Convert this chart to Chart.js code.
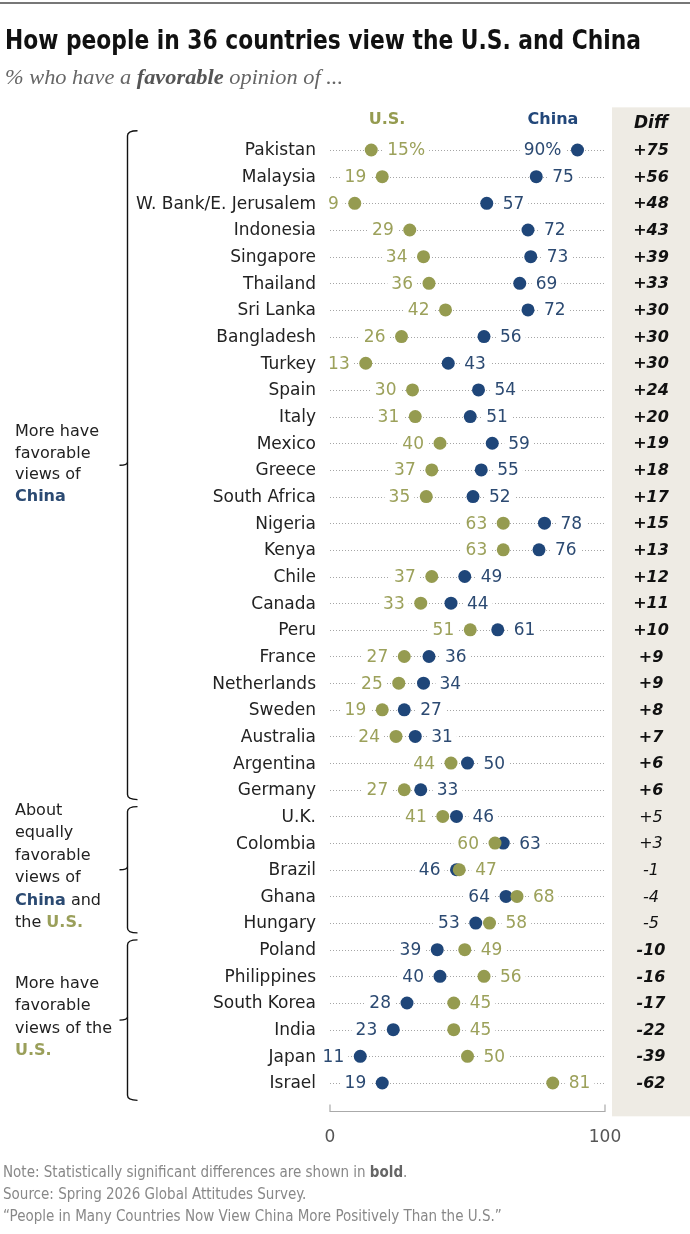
<!DOCTYPE html>
<html>
<head>
<meta charset="utf-8">
<script src="https://cdn.jsdelivr.net/npm/chart.js@4.4.1/dist/chart.umd.min.js"></script>
<style>
  html,body{margin:0;padding:0;background:#fff;}
  #wrap{position:relative;width:690px;height:1234px;overflow:hidden;}
  canvas{position:absolute;left:0;top:0;}
  .abs{position:absolute;white-space:nowrap;}
  #topline{left:0;top:2px;width:690px;height:2px;background:#777;}
  #title{left:5px;top:24px;font-family:"Liberation Sans Narrow","DejaVu Sans Condensed",sans-serif;font-weight:bold;font-size:27px;line-height:32px;color:#111;transform-origin:left top;}
  #sub{left:5px;top:65px;font-family:"Liberation Serif","DejaVu Serif",serif;font-style:italic;font-size:20px;line-height:24px;color:#666;transform-origin:left top;}
  #sub b{color:#555;}
  .hdr{font-family:"DejaVu Sans",sans-serif;font-weight:bold;font-size:16px;line-height:20px;transform:translate(-50%,-50%);}
  .grp{left:15px;font-family:"DejaVu Sans",sans-serif;font-size:16px;line-height:22.4px;color:#222;transform:translateY(-50%);}
  .grp .c{color:#2b4a72;font-weight:bold;}
  .grp .u{color:#9a9f5a;font-weight:bold;}
  #notes{left:3px;top:1161px;font-family:"Liberation Sans Narrow","DejaVu Sans Condensed",sans-serif;font-size:15px;line-height:22px;color:#888;}
  #notes b{color:#666;}
</style>
</head>
<body>
<div id="wrap">
  <canvas id="c" width="690" height="1234"></canvas>
  <div class="abs" id="topline"></div>
  <div class="abs" id="title">How people in 36 countries view the U.S. and China</div>
  <div class="abs" id="sub">% who have a <b>favorable</b> opinion of ...</div>
  <div class="abs hdr" style="left:387px;top:119px;color:#959b50;">U.S.</div>
  <div class="abs hdr" style="left:553px;top:119px;color:#22477a;">China</div>
  <div class="abs hdr" style="left:651px;top:122px;color:#111;font-style:italic;font-size:17px;">Diff</div>
  <div class="abs grp" style="top:463px;line-height:21.5px;">More have<br>favorable<br>views of<br><span class="c">China</span></div>
  <div class="abs grp" style="top:866px;">About<br>equally<br>favorable<br>views of<br><span class="c">China</span> and<br>the <span class="u">U.S.</span></div>
  <div class="abs grp" style="top:1017px;">More have<br>favorable<br>views of the<br><span class="u">U.S.</span></div>
  <div class="abs" id="notes">Note: Statistically significant differences are shown in <b>bold</b>.<br>Source: Spring 2026 Global Attitudes Survey.<br>“People in Many Countries Now View China More Positively Than the U.S.”</div>
</div>
<script>
const countries = ["Pakistan","Malaysia","W. Bank/E. Jerusalem","Indonesia","Singapore","Thailand","Sri Lanka","Bangladesh","Turkey","Spain","Italy","Mexico","Greece","South Africa","Nigeria","Kenya","Chile","Canada","Peru","France","Netherlands","Sweden","Australia","Argentina","Germany","U.K.","Colombia","Brazil","Ghana","Hungary","Poland","Philippines","South Korea","India","Japan","Israel"];
const usValues = [15,19,9,29,34,36,42,26,13,30,31,40,37,35,63,63,37,33,51,27,25,19,24,44,27,41,60,47,68,58,49,56,45,45,50,81];
const chinaValues = [90,75,57,72,73,69,72,56,43,54,51,59,55,52,78,76,49,44,61,36,34,27,31,50,33,46,63,46,64,53,39,40,28,23,11,19];
const diffLabels = ["+75","+56","+48","+43","+39","+33","+30","+30","+30","+24","+20","+19","+18","+17","+15","+13","+12","+11","+10","+9","+9","+8","+7","+6","+6","+5","+3","-1","-4","-5","-10","-16","-17","-22","-39","-62"];
const diffSignificant = [1,1,1,1,1,1,1,1,1,1,1,1,1,1,1,1,1,1,1,1,1,1,1,1,1,0,0,0,0,0,1,1,1,1,1,1];
const groupEnds = [24,29,35];
const axisTicks = [0,100];

const US_DOT = "#959b50", CN_DOT = "#1f4679";
const US_TXT = "#9ca15b", CN_TXT = "#2c4a72";

function fitWidth(id, target) {
  const el = document.getElementById(id);
  const w = el.getBoundingClientRect().width;
  if (w > 0) el.style.transform = "scaleX(" + (target / w) + ")";
}
fitWidth("title", 636);
fitWidth("sub", 338);

const overlay = {
  id: "overlay",
  beforeDatasetsDraw(chart) {
    const ctx = chart.ctx;
    const xs = chart.scales.x, ys = chart.scales.y;
    const x0 = xs.getPixelForValue(0), x1 = xs.getPixelForValue(100);
    const band = ys.getPixelForValue(1) - ys.getPixelForValue(0);
    const yFirst = ys.getPixelForValue(0), yLast = ys.getPixelForValue(countries.length - 1);
    ctx.save();
    ctx.fillStyle = "#eeebe4";
    ctx.fillRect(612, yFirst - band * 1.6, 690 - 612, (yLast - yFirst) + band * 2.85);
    ctx.strokeStyle = "#a5a5a5";
    ctx.lineWidth = 1;
    ctx.setLineDash([1, 2]);
    countries.forEach((c, i) => {
      const y = Math.round(ys.getPixelForValue(i)) + 0.5;
      ctx.beginPath(); ctx.moveTo(x0, y); ctx.lineTo(x1, y); ctx.stroke();
    });
    ctx.setLineDash([]);
    ctx.font = "17px 'DejaVu Sans', sans-serif";
    ctx.fillStyle = "#222";
    ctx.textAlign = "right";
    ctx.textBaseline = "middle";
    countries.forEach((c, i) => {
      ctx.fillText(c, 316, ys.getPixelForValue(i) + 1);
    });
    const drawLabel = (txt, x, y, align, color) => {
      ctx.font = "17px 'DejaVu Sans', sans-serif";
      const w = ctx.measureText(txt).width;
      const left = align === "left" ? x : x - w;
      ctx.fillStyle = "#fff";
      ctx.fillRect(left - 4, y - 9, w + 8, 18);
      ctx.fillStyle = color;
      ctx.textAlign = align;
      ctx.fillText(txt, x, y + 1);
    };
    const off = 16;
    countries.forEach((c, i) => {
      const y = ys.getPixelForValue(i);
      const u = usValues[i], h = chinaValues[i];
      const ux = xs.getPixelForValue(u), hx = xs.getPixelForValue(h);
      const suffix = i === 0 ? "%" : "";
      const inward = Math.max(u, h) >= 88;
      if (u < h) {
        if (inward) {
          drawLabel(u + suffix, ux + off, y, "left", US_TXT);
          drawLabel(h + suffix, hx - off, y, "right", CN_TXT);
        } else {
          drawLabel(u + suffix, ux - off, y, "right", US_TXT);
          drawLabel(h + suffix, hx + off, y, "left", CN_TXT);
        }
      } else {
        drawLabel(h + suffix, hx - off, y, "right", CN_TXT);
        drawLabel(u + suffix, ux + off, y, "left", US_TXT);
      }
    });
    ctx.textAlign = "center";
    ctx.fillStyle = "#111";
    diffLabels.forEach((d, i) => {
      ctx.font = (diffSignificant[i] ? "bold " : "") + "italic 16px 'DejaVu Sans', sans-serif";
      ctx.fillText(d, 651, ys.getPixelForValue(i) + 1);
    });
    ctx.strokeStyle = "#111";
    ctx.lineWidth = 1.4;
    const bx = 127.5;
    let start = 0;
    groupEnds.forEach((end) => {
      const top = start === 0 ? ys.getPixelForValue(0) - band * 0.72 : (ys.getPixelForValue(start - 1) + ys.getPixelForValue(start)) / 2 + 3.5;
      const bot = end === countries.length - 1 ? ys.getPixelForValue(end) + band * 0.65 : (ys.getPixelForValue(end) + ys.getPixelForValue(end + 1)) / 2 - 3.5;
      const mid = (top + bot) / 2;
      ctx.beginPath();
      ctx.moveTo(bx + 10, top);
      ctx.quadraticCurveTo(bx, top, bx, top + 5);
      ctx.lineTo(bx, bot - 5);
      ctx.quadraticCurveTo(bx, bot, bx + 10, bot);
      ctx.stroke();
      ctx.beginPath();
      ctx.moveTo(bx, mid - 3);
      ctx.quadraticCurveTo(bx, mid, bx - 8, mid);
      ctx.stroke();
      start = end + 1;
    });
    const ay = Math.round(yLast + 28) + 0.5;
    ctx.strokeStyle = "#aaa";
    ctx.lineWidth = 1.2;
    ctx.beginPath();
    ctx.moveTo(x0, ay - 7); ctx.lineTo(x0, ay); ctx.lineTo(x1, ay); ctx.lineTo(x1, ay - 7);
    ctx.stroke();
    ctx.font = "17px 'DejaVu Sans', sans-serif";
    ctx.fillStyle = "#555";
    ctx.textAlign = "center";
    axisTicks.forEach(t => ctx.fillText(String(t), xs.getPixelForValue(t), ay + 26));
    ctx.restore();
  }
};

new Chart(document.getElementById("c"), {
  type: "line",
  data: {
    labels: countries,
    datasets: [
      { label: "U.S.", data: usValues, showLine: false, pointRadius: 6.5, pointBackgroundColor: US_DOT, pointBorderColor: US_DOT, pointBorderWidth: 0, clip: false },
      { label: "China", data: chinaValues, showLine: false, pointRadius: 6.5, pointBackgroundColor: CN_DOT, pointBorderColor: CN_DOT, pointBorderWidth: 0, clip: false }
    ]
  },
  options: {
    indexAxis: "y",
    responsive: false,
    animation: false,
    layout: { padding: { left: 330, right: 85, top: 150, bottom: 151 } },
    scales: {
      x: { type: "linear", min: 0, max: 100, display: false },
      y: { type: "category", offset: false, display: false }
    },
    plugins: { legend: { display: false }, tooltip: { enabled: false } },
    events: []
  },
  plugins: [overlay]
});
</script>
</body>
</html>
